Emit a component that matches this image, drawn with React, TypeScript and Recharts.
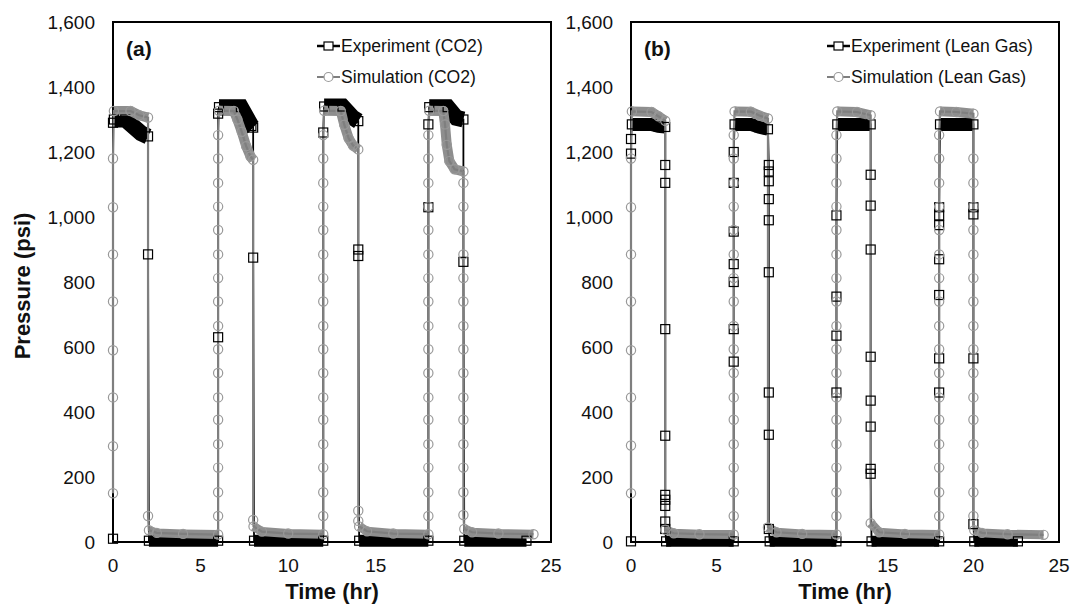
import { ComposedChart, Line, XAxis, YAxis, ReferenceArea } from "recharts";

type Pt = [number, number];

const xTicks = [0, 5, 10, 15, 20, 25];
const yTicks = [0, 200, 400, 600, 800, 1000, 1200, 1400, 1600];

// [time (hr), pressure (psi)]
const expCO2: Pt[] = [
  [0, 10], [0, 1290], [0.05, 1300], [0.7, 1300], [1.6, 1258], [2.0, 1248],
  [2.0, 885], [2.05, 4],
  [6.0, 4], [6.0, 630], [6.0, 1318], [6.05, 1338], [7.3, 1338], [7.9, 1280], [8.0, 1275],
  [8.0, 875], [8.05, 4],
  [12.0, 4], [12.0, 1260], [12.05, 1340], [13.1, 1340], [13.7, 1305], [14.0, 1295],
  [14.0, 900], [14.0, 880], [14.05, 4],
  [18.0, 4], [18.0, 1030], [18.0, 1285], [18.05, 1338], [19.1, 1338], [19.6, 1305], [20.0, 1300],
  [20.0, 862], [20.05, 4], [23.6, 4],
];

const simCO2: Pt[] = [
  [0, 150], [0, 295], [0, 445], [0, 590], [0, 740], [0, 885], [0, 1030], [0, 1180], [0.05, 1326],
  [1.0, 1326], [1.5, 1313], [2.0, 1306],
  [2.0, 80], [2.05, 36], [2.5, 28], [4.0, 25], [6.0, 23],
  [6.0, 80], [6.0, 153], [6.0, 229], [6.0, 301], [6.0, 376], [6.0, 445], [6.0, 520], [6.0, 593], [6.0, 665],
  [6.0, 740], [6.0, 812], [6.0, 885], [6.0, 960], [6.0, 1032], [6.0, 1105], [6.0, 1180], [6.0, 1252], [6.05, 1327],
  [6.9, 1326], [7.1, 1300], [7.35, 1262], [7.6, 1218], [7.85, 1186], [8.0, 1176],
  [8.0, 68], [8.02, 48], [8.5, 32], [10.0, 26], [12.0, 24],
  [12.0, 80], [12.0, 153], [12.0, 229], [12.0, 301], [12.0, 376], [12.0, 445], [12.0, 520], [12.0, 593], [12.0, 665],
  [12.0, 740], [12.0, 812], [12.0, 885], [12.0, 960], [12.0, 1032], [12.0, 1105], [12.0, 1180], [12.0, 1252], [12.05, 1327],
  [13.0, 1326], [13.2, 1284], [13.45, 1242], [13.7, 1220], [14.0, 1208],
  [14.0, 96], [14.0, 65], [14.05, 48], [14.5, 33], [16.0, 26], [18.0, 24],
  [18.0, 80], [18.0, 153], [18.0, 229], [18.0, 301], [18.0, 376], [18.0, 445], [18.0, 520], [18.0, 593], [18.0, 665],
  [18.0, 740], [18.0, 812], [18.0, 885], [18.0, 960], [18.0, 1032], [18.0, 1105], [18.0, 1180], [18.0, 1252], [18.05, 1327],
  [18.85, 1326], [18.95, 1285], [19.05, 1222], [19.2, 1172], [19.5, 1147], [20.0, 1140],
  [20.0, 1105], [20.0, 1032], [20.0, 960], [20.0, 885], [20.0, 812], [20.0, 740], [20.0, 665], [20.0, 593],
  [20.0, 520], [20.0, 445], [20.0, 376], [20.0, 301], [20.0, 229], [20.0, 153], [20.0, 83],
  [20.05, 40], [20.5, 30], [22.0, 26], [24.0, 24],
];

const expLean: Pt[] = [
  [0, 2], [0, 1195], [0, 1240], [0.05, 1285], [1.2, 1285], [1.6, 1279], [2.0, 1277],
  [2.0, 1160], [2.0, 1105], [2.0, 655], [2.0, 327], [2.0, 145], [2.0, 130], [2.0, 111], [2.0, 63], [2.0, 40], [2.05, 2],
  [6.0, 2], [6.0, 555], [6.0, 655], [6.0, 800], [6.0, 855], [6.0, 955], [6.0, 1105], [6.0, 1200],
  [6.05, 1285], [7.0, 1285], [7.5, 1276], [8.0, 1270],
  [8.05, 1160], [8.05, 1140], [8.05, 1110], [8.05, 1055], [8.05, 990], [8.05, 830], [8.05, 460], [8.05, 330], [8.05, 40], [8.1, 2],
  [12.0, 2], [12.0, 460], [12.0, 635], [12.0, 755], [12.0, 1005], [12.05, 1285], [14.0, 1285],
  [14.0, 1130], [14.0, 1035], [14.0, 900], [14.0, 570], [14.0, 435], [14.0, 355], [14.0, 225], [14.0, 210], [14.05, 2],
  [18.0, 2], [18.0, 460], [18.0, 565], [18.0, 760], [18.0, 870], [18.0, 975], [18.0, 1005], [18.0, 1030],
  [18.05, 1285], [20.0, 1285],
  [20.0, 1030], [20.0, 1008], [20.0, 565], [20.0, 55], [20.05, 2], [22.6, 2],
];

const simLean: Pt[] = [
  [0, 150], [0, 297], [0, 445], [0, 590], [0, 740], [0, 885], [0, 1030], [0, 1180], [0.05, 1325],
  [1.2, 1323], [1.6, 1310], [2.0, 1296],
  [2.0, 38], [2.5, 27], [4.0, 24], [6.0, 23],
  [6.0, 80], [6.0, 153], [6.0, 229], [6.0, 301], [6.0, 376], [6.0, 445], [6.0, 520], [6.0, 593], [6.0, 665],
  [6.0, 740], [6.0, 812], [6.0, 885], [6.0, 960], [6.0, 1032], [6.0, 1105], [6.0, 1180], [6.0, 1252], [6.05, 1325],
  [7.0, 1324], [7.5, 1312], [8.0, 1303],
  [8.0, 45], [8.5, 30], [10.0, 25], [12.0, 23],
  [12.0, 80], [12.0, 153], [12.0, 229], [12.0, 301], [12.0, 376], [12.0, 445], [12.0, 520], [12.0, 593], [12.0, 665],
  [12.0, 740], [12.0, 812], [12.0, 885], [12.0, 960], [12.0, 1032], [12.0, 1105], [12.0, 1180], [12.0, 1252], [12.05, 1325],
  [13.2, 1323], [14.0, 1313],
  [14.0, 58], [14.5, 30], [16.0, 25], [18.0, 23],
  [18.0, 80], [18.0, 153], [18.0, 229], [18.0, 301], [18.0, 376], [18.0, 445], [18.0, 520], [18.0, 593], [18.0, 665],
  [18.0, 740], [18.0, 812], [18.0, 885], [18.0, 960], [18.0, 1032], [18.0, 1105], [18.0, 1180], [18.0, 1252], [18.05, 1325],
  [19.0, 1323], [20.0, 1318],
  [20.0, 1180], [20.0, 1105], [20.0, 1032], [20.0, 960], [20.0, 885], [20.0, 812], [20.0, 740], [20.0, 665],
  [20.0, 593], [20.0, 520], [20.0, 445], [20.0, 376], [20.0, 301], [20.0, 229], [20.0, 153], [20.0, 80],
  [20.05, 36], [20.5, 28], [22.0, 24], [24.1, 22],
];

const FONT = '"Liberation Sans", Arial, Helvetica, sans-serif';
const SIM_LINE = "#7f7f7f";
const SIM_MARK = "#999999";
const SIM_BAND = "#8e8e8e";

type Row = { t: number; p: number | null };

const toRows = (pts: Pt[]): Row[] => pts.map(([t, p]) => ({ t, p }));

// readings logged every minute or so pile up into a solid band; pick the
// long stretches (not the pressure steps) and draw them as thick strokes
function bandRows(pts: Pt[], high: boolean): Row[] {
  const rows: Row[] = [];
  for (let i = 1; i < pts.length; i++) {
    const [t0, p0] = pts[i - 1];
    const [t1, p1] = pts[i];
    if (t1 - t0 < 0.08) continue;
    if (p0 > 600 !== high) continue;
    const last = rows[rows.length - 1];
    if (!last || last.t !== t0 || last.p !== p0) {
      if (rows.length) rows.push({ t: t0, p: null });
      rows.push({ t: t0, p: p0 });
    }
    rows.push({ t: t1, p: p1 });
  }
  return rows;
}

const Square = (props: any) => {
  const { cx, cy, index } = props;
  if (cx == null || cy == null) return <g key={`s${index}`} />;
  return (
    <rect key={`s${index}`} x={cx - 4.5} y={cy - 4.5} width={9} height={9}
      fill="none" stroke="#000" strokeWidth={1.2} />
  );
};

const Ring = (props: any) => {
  const { cx, cy, index } = props;
  if (cx == null || cy == null) return <g key={`c${index}`} />;
  return <circle key={`c${index}`} cx={cx} cy={cy} r={4.6} fill="none" stroke={SIM_MARK} strokeWidth={1.2} />;
};

interface PanelProps {
  left: number;
  width: number;
  marginLeft: number;
  marginRight: number;
  exp: Pt[];
  sim: Pt[];
  tag: string;
  expName: string;
  simName: string;
  legendX: number;
  highBand: number;
  lowBand: number;
  showYTitle?: boolean;
}

function Panel({
  left, width, marginLeft, marginRight, exp, sim, tag, expName, simName, legendX, highBand, lowBand, showYTitle,
}: PanelProps) {
  const plotLeft = marginLeft + 60;
  const plotRight = width - marginRight;
  const tickStyle = { fontSize: 19, fill: "#111", fontFamily: FONT };

  return (
    <div style={{ position: "absolute", left, top: 0, width, height: 604 }}>
      <ComposedChart width={width} height={604}
        margin={{ top: 22, right: marginRight, bottom: 22, left: marginLeft }}>
        <XAxis type="number" dataKey="t" domain={[0, 25]} ticks={xTicks} interval={0}
          height={40} tickLine={false} axisLine={false} tickSize={0} tickMargin={17} tick={tickStyle} />
        <YAxis type="number" dataKey="p" domain={[0, 1600]} ticks={yTicks} interval={0}
          width={60} tickLine={false} axisLine={false} tickSize={0} tickMargin={18} tick={tickStyle}
          tickFormatter={(v: number) => v.toLocaleString("en-US")} />
        <ReferenceArea x1={0} x2={25} y1={0} y2={1600} fill="none" stroke="#000" strokeWidth={2} />
        <Line data={bandRows(exp, true)} dataKey="p" stroke="#000" strokeWidth={highBand}
          strokeLinejoin="miter" strokeLinecap="butt" dot={false} activeDot={false}
          connectNulls={false} isAnimationActive={false} />
        <Line data={bandRows(exp, false)} dataKey="p" stroke="#000" strokeWidth={lowBand}
          strokeLinecap="butt" dot={false} activeDot={false} connectNulls={false} isAnimationActive={false} />
        <Line data={toRows(exp)} dataKey="p" stroke="#000" strokeWidth={1.8} dot={Square}
          activeDot={false} isAnimationActive={false} />
        <Line data={bandRows(sim, true)} dataKey="p" stroke={SIM_BAND} strokeWidth={10}
          strokeLinejoin="round" strokeLinecap="butt" dot={false} activeDot={false}
          connectNulls={false} isAnimationActive={false} />
        <Line data={bandRows(sim, false)} dataKey="p" stroke={SIM_BAND} strokeWidth={9}
          strokeLinecap="butt" dot={false} activeDot={false} connectNulls={false} isAnimationActive={false} />
        <Line data={toRows(sim)} dataKey="p" stroke={SIM_LINE} strokeWidth={2.2} dot={Ring}
          activeDot={false} isAnimationActive={false} />
      </ComposedChart>
      <svg width={width} height={604}
        style={{ position: "absolute", left: 0, top: 0, pointerEvents: "none", fontFamily: FONT }}>
        <text x={plotLeft + 13} y={49} dy="0.35em" fontSize={21} fontWeight="bold" fill="#111">{tag}</text>
        <line x1={legendX} x2={legendX + 23} y1={46} y2={46} stroke="#000" strokeWidth={2.5} />
        <rect x={legendX + 7} y={42} width={9} height={8} fill="#fff" stroke="#000" strokeWidth={1.2} />
        <text x={legendX + 24} y={46} dy="0.35em" fontSize={17.6} fill="#111">{expName}</text>
        <line x1={legendX} x2={legendX + 23} y1={77} y2={77} stroke={SIM_LINE} strokeWidth={2} />
        <circle cx={legendX + 11.5} cy={77} r={4.5} fill="#fff" stroke={SIM_MARK} strokeWidth={1.2} />
        <text x={legendX + 24} y={77} dy="0.35em" fontSize={17.6} fill="#111">{simName}</text>
        <text x={(plotLeft + plotRight) / 2} y={591} dy="0.35em" textAnchor="middle" fontSize={22}
          fontWeight="bold" fill="#111">Time (hr)</text>
        {showYTitle && (
          <text x={22} y={286} dy="0.35em" textAnchor="middle" fontSize={22} fontWeight="bold" fill="#111"
            transform="rotate(-90 22 286)">Pressure (psi)</text>
        )}
      </svg>
    </div>
  );
}

export default function App() {
  return (
    <div style={{ position: "absolute", left: 0, top: 0, width: 1072, height: 604, background: "#fff" }}>
      <Panel left={0} width={580} marginLeft={53} marginRight={29} exp={expCO2} sim={simCO2} tag="(a)"
        expName="Experiment (CO2)" simName="Simulation (CO2)" legendX={317}
        highBand={16} lowBand={12} showYTitle />
      <Panel left={560} width={512} marginLeft={11} marginRight={13} exp={expLean} sim={simLean} tag="(b)"
        expName="Experiment (Lean Gas)" simName="Simulation (Lean Gas)" legendX={267}
        highBand={13} lowBand={11} />
    </div>
  );
}
